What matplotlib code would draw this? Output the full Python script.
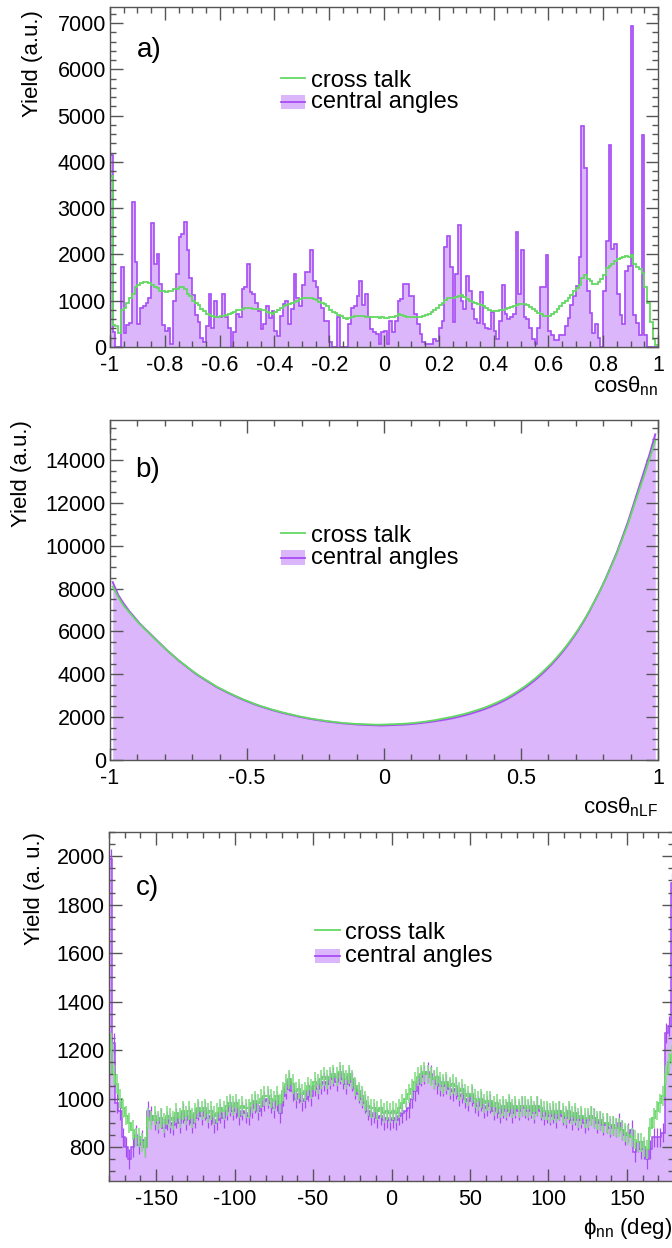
import numpy as np
import matplotlib
matplotlib.use('Agg')
import matplotlib.pyplot as plt
from matplotlib.patches import Rectangle
from matplotlib.ticker import MultipleLocator, FuncFormatter

plt.rcParams['font.family'] = ['Liberation Sans', 'DejaVu Sans']
plt.rcParams['mathtext.fontset'] = 'custom'
plt.rcParams['mathtext.rm'] = 'Liberation Sans'
plt.rcParams['mathtext.it'] = 'Liberation Sans'
plt.rcParams['axes.unicode_minus'] = False

# ---------------- datos ----------------
# a) cos(theta_nn), 200 bins de -1 a 1
a_central = [
    4150, 330, 0, 0, 1720, 300, 480, 520, 3140, 1830,
    490, 850, 880, 950, 1050, 2670, 1800, 2000, 1360, 480,
    350, 420, 60, 1000, 1580, 2380, 2450, 2700, 2090, 1500,
    1130, 700, 530, 200, 100, 450, 1150, 400, 1000, 650,
    650, 1150, 640, 400, 0, 320, 710, 640, 1250, 1290,
    1800, 1180, 1150, 960, 780, 380, 490, 890, 620, 780,
    350, 240, 670, 930, 1000, 490, 820, 1580, 1070, 890,
    1330, 1620, 1620, 2090, 1430, 1290, 1070, 850, 570, 570,
    100, 0, 0, 640, 0, 0, 0, 490, 850, 890,
    1110, 1430, 900, 1150, 640, 380, 320, 280, 60, 320,
    350, 60, 570, 320, 570, 1000, 1040, 1360, 1360, 1110,
    1110, 710, 490, 280, 100, 60, 60, 60, 170, 130,
    420, 570, 2160, 2410, 1720, 530, 1580, 2630, 1000, 820,
    1540, 1220, 820, 600, 520, 1180, 490, 420, 380, 750,
    350, 170, 570, 1330, 710, 600, 640, 710, 2480, 1150,
    2090, 640, 600, 420, 170, 60, 420, 1290, 1290, 1980,
    350, 270, 160, 160, 270, 270, 450, 630, 900, 1100,
    1320, 1940, 4770, 3860, 1210, 740, 310, 490, 200, 0,
    1210, 2300, 4370, 2120, 2230, 1140, 700, 490, 1650, 1750,
    6940, 700, 520, 270, 4590, 270, 0, 0, 0, 0,
]
a_xtalk = [
    3700, 480, 450, 300, 800, 850, 950, 1050, 1150, 1300,
    1330, 1380, 1400, 1400, 1380, 1330, 1300, 1280, 1220, 1200,
    1180, 1200, 1220, 1250, 1260, 1300, 1300, 1250, 1150, 1100,
    1000, 950, 900, 820, 780, 720, 700, 680, 650, 650,
    660, 680, 700, 720, 740, 760, 790, 810, 830, 840,
    850, 840, 830, 830, 820, 810, 790, 760, 730, 720,
    760, 800, 850, 880, 910, 930, 960, 980, 1000, 1030,
    1060, 1070, 1060, 1050, 1040, 1010, 980, 950, 930, 880,
    800, 760, 730, 700, 660, 620, 600, 620, 650, 660,
    670, 660, 660, 650, 640, 650, 640, 640, 630, 640,
    620, 630, 640, 650, 680, 720, 700, 660, 640, 650,
    640, 650, 640, 650, 660, 690, 720, 760, 800, 850,
    900, 960, 1020, 1070, 1060, 1050, 1080, 1100, 1130, 1080,
    1040, 1000, 980, 950, 930, 910, 890, 850, 800, 780,
    770, 780, 790, 810, 820, 840, 860, 880, 900, 920,
    930, 930, 900, 860, 820, 780, 740, 710, 680, 660,
    680, 720, 760, 830, 890, 950, 1000, 1060, 1120, 1200,
    1280, 1350, 1500, 1550, 1480, 1420, 1360, 1370, 1400, 1460,
    1550, 1700, 1750, 1800, 1850, 1900, 1920, 1940, 1960, 1950,
    1980, 1800, 1720, 1680, 1600, 1300, 950, 550, 180, 40,
]

# b) cos(theta_nLF), 100 bins de -1 a 1
b_central = [
    8300, 7700, 7300, 6950, 6650, 6350, 6100, 5850, 5600, 5350,
    5100, 4880, 4650, 4450, 4250, 4050, 3880, 3720, 3560, 3400,
    3270, 3140, 3020, 2900, 2790, 2690, 2590, 2500, 2420, 2340,
    2270, 2200, 2140, 2080, 2020, 1970, 1920, 1880, 1840, 1800,
    1770, 1740, 1710, 1690, 1670, 1650, 1640, 1630, 1620, 1610,
    1620, 1630, 1640, 1650, 1670, 1690, 1720, 1750, 1780, 1820,
    1860, 1900, 1950, 2010, 2070, 2140, 2220, 2300, 2390, 2490,
    2600, 2720, 2850, 3000, 3160, 3330, 3520, 3720, 3940, 4180,
    4440, 4720, 5020, 5350, 5700, 6080, 6500, 6950, 7450, 7950,
    8500, 9100, 9700, 10400, 11100, 11900, 12700, 13500, 14300, 15200,
]
b_xtalk = [
    8100, 7600, 7200, 6900, 6600, 6330, 6080, 5830, 5580, 5340,
    5100, 4880, 4660, 4460, 4260, 4070, 3900, 3740, 3580, 3420,
    3290, 3160, 3040, 2920, 2810, 2710, 2610, 2520, 2440, 2360,
    2290, 2220, 2160, 2100, 2040, 1990, 1940, 1900, 1860, 1820,
    1790, 1760, 1730, 1710, 1690, 1680, 1670, 1660, 1650, 1650,
    1660, 1670, 1680, 1690, 1710, 1730, 1760, 1790, 1830, 1870,
    1920, 1970, 2020, 2080, 2140, 2210, 2290, 2370, 2460, 2560,
    2670, 2790, 2920, 3070, 3230, 3400, 3590, 3790, 4010, 4250,
    4500, 4780, 5080, 5400, 5750, 6120, 6530, 6970, 7450, 7950,
    8480, 9060, 9650, 10320, 11000, 11780, 12550, 13300, 14100, 14900,
]

# c) phi_nn, 180 bins de -180 a 180 grados
c_central = [
    1990, 1230, 980, 950, 840, 800, 750, 800, 850, 810,
    830, 800, 950, 930, 910, 900, 920, 880, 910, 900,
    890, 920, 900, 940, 910, 930, 900, 920, 950, 930,
    950, 920, 930, 900, 910, 940, 920, 950, 970, 950,
    960, 930, 950, 940, 930, 960, 980, 950, 970, 990,
    1000, 980, 960, 990, 940, 1010, 1040, 1070, 1030, 1000,
    1020, 990, 1000, 1030, 1010, 1050, 1040, 1060, 1070, 1060,
    1080, 1090, 1070, 1100, 1080, 1060, 1090, 1070, 1040, 1020,
    1000, 980, 950, 930, 940, 920, 930, 910, 920, 910,
    920, 910, 930, 940, 950, 960, 1000, 1030, 1060, 1090,
    1100, 1110, 1100, 1080, 1060, 1050, 1050, 1060, 1040, 1030,
    1040, 1010, 1020, 1000, 990, 1010, 980, 970, 990, 960,
    970, 980, 950, 960, 940, 960, 950, 970, 940, 960,
    950, 970, 960, 950, 960, 940, 970, 950, 930, 940,
    930, 940, 920, 950, 930, 920, 940, 910, 930, 910,
    920, 900, 910, 930, 920, 900, 910, 890, 900, 880,
    890, 880, 900, 870, 850, 860, 870, 780, 820, 790,
    790, 750, 790, 840, 840, 840, 860, 1270, 1300, 1890,
]
c_xtalk = [
    1230, 1100, 1060, 1000, 960, 930, 900, 870, 840, 840,
    820, 800, 920, 910, 930, 910, 920, 900, 930, 920,
    910, 940, 920, 950, 930, 950, 920, 940, 960, 950,
    960, 940, 950, 930, 940, 960, 950, 970, 980, 970,
    980, 960, 970, 960, 960, 980, 990, 980, 1000, 1010,
    1010, 1000, 990, 1010, 980, 1030, 1060, 1080, 1060, 1030,
    1040, 1020, 1030, 1050, 1040, 1070, 1060, 1080, 1090, 1080,
    1090, 1100, 1090, 1110, 1100, 1080, 1100, 1080, 1050, 1030,
    1010, 990, 970, 960, 960, 950, 960, 940, 950, 940,
    950, 940, 960, 980, 1000, 1020, 1040, 1070, 1090, 1100,
    1110, 1100, 1090, 1080, 1090, 1070, 1060, 1070, 1050, 1060,
    1050, 1030, 1040, 1020, 1010, 1020, 1000, 990, 1000, 980,
    990, 990, 970, 980, 960, 970, 960, 980, 960, 970,
    960, 970, 970, 960, 970, 950, 970, 960, 950, 950,
    940, 950, 940, 950, 940, 930, 950, 930, 940, 920,
    930, 920, 920, 930, 920, 910, 910, 900, 900, 890,
    890, 880, 880, 870, 860, 850, 840, 830, 820, 820,
    800, 790, 880, 920, 950, 980, 1010, 1100, 1150, 1180,
]
c_err = 40  # media barra de error aproximada

# ---------------- estilo ----------------
FILL = '#dcb6fb'
VIOLET = '#a64cf5'
GREEN = '#63d863'
GREEN_ERR = '#86de86'
FRAME = '#555555'

fig = plt.figure(figsize=(6.72, 12.48), dpi=100)
ax_a = fig.add_axes([110/672, 1-347/1248, 548/672, 340/1248])
ax_b = fig.add_axes([110/672, 1-760/1248, 548/672, 340/1248])
ax_c = fig.add_axes([109/672, 1-1181/1248, 565/672, 349/1248])

fmt = FuncFormatter(lambda v, p: f'{round(v, 6) + 0.0:g}')


def estilo(ax, xmaj, xmin, ymaj, ymin):
    ax.xaxis.set_major_locator(MultipleLocator(xmaj))
    ax.xaxis.set_minor_locator(MultipleLocator(xmin))
    ax.yaxis.set_major_locator(MultipleLocator(ymaj))
    ax.yaxis.set_minor_locator(MultipleLocator(ymin))
    ax.xaxis.set_major_formatter(fmt)
    ax.yaxis.set_major_formatter(fmt)
    ax.tick_params(which='both', direction='in', top=True, right=True,
                   color=FRAME, labelsize=15.5)
    ax.tick_params(which='major', length=9, width=1)
    ax.tick_params(which='minor', length=4.5, width=1)
    ax.tick_params(axis='x', pad=6)
    ax.tick_params(axis='y', pad=3)
    for s in ax.spines.values():
        s.set_color(FRAME)
        s.set_linewidth(1)


def leyenda(ax, x0, x1, xt, yl, yt1, yb, yb_lo, yb_hi, yt2):
    ax.plot([x0, x1], [yl, yl], transform=ax.transAxes, color=GREEN, lw=1.3)
    ax.add_patch(Rectangle((x0, yb_lo), x1 - x0, yb_hi - yb_lo, transform=ax.transAxes,
                           facecolor=FILL, edgecolor='none'))
    ax.plot([x0, x1], [yb, yb], transform=ax.transAxes, color=VIOLET, lw=1.3)
    ax.text(xt, yt1, 'cross talk', transform=ax.transAxes, va='baseline', fontsize=17)
    ax.text(xt, yt2, 'central angles', transform=ax.transAxes, va='baseline', fontsize=17)


# ---------------- a) ----------------
edges_a = np.linspace(-1, 1, len(a_central) + 1)
ax_a.stairs(a_central, edges_a, fill=True, color=FILL, lw=0)
ax_a.stairs(a_central, edges_a, color=VIOLET, lw=1.2)
ax_a.stairs(a_xtalk, edges_a, color=GREEN, lw=1.3, baseline=None)
ax_a.set_xlim(-1, 1)
ax_a.set_ylim(0, 7350)
estilo(ax_a, 0.2, 0.05, 1000, 200)
ax_a.set_ylabel('Yield (a.u.)', loc='top', fontsize=16)
ax_a.yaxis.set_label_coords(-0.122, 0.99)
ax_a.set_xlabel(r'cos$\theta_{\rm nn}$', loc='right', fontsize=16)
ax_a.xaxis.set_label_coords(1.0, -0.08)
ax_a.text(0.049, 0.853, 'a)', transform=ax_a.transAxes, fontsize=20, va='baseline')
leyenda(ax_a, 0.312, 0.356, 0.367, 0.79, 0.765, 0.722, 0.701, 0.742, 0.703)

# ---------------- b) ----------------
cent_b = np.linspace(-1, 1, len(b_central) + 1)
cent_b = (cent_b[:-1] + cent_b[1:]) / 2
ax_b.fill_between(cent_b, b_central, color=FILL, lw=0)
ax_b.plot(cent_b, b_central, color=VIOLET, lw=1.4)
ax_b.plot(cent_b, b_xtalk, color=GREEN, lw=1.3)
ax_b.set_xlim(-1, 1)
ax_b.set_ylim(0, 15870)
estilo(ax_b, 0.5, 0.1, 2000, 500)
ax_b.set_ylabel('Yield (a.u.)', loc='top', fontsize=16)
ax_b.yaxis.set_label_coords(-0.142, 1.0)
ax_b.set_xlabel(r'cos$\theta_{\rm nLF}$', loc='right', fontsize=16)
ax_b.xaxis.set_label_coords(1.0, -0.103)
ax_b.text(0.046, 0.832, 'b)', transform=ax_b.transAxes, fontsize=20, va='baseline')
leyenda(ax_b, 0.312, 0.356, 0.367, 0.667, 0.641, 0.595, 0.574, 0.618, 0.576)

# ---------------- c) ----------------
edges_c = np.linspace(-180, 180, len(c_central) + 1)
cent_c = (edges_c[:-1] + edges_c[1:]) / 2
ax_c.stairs(c_central, edges_c, fill=True, color=FILL, lw=0, baseline=0)
ax_c.errorbar(cent_c, c_central, yerr=c_err, fmt='none', ecolor=VIOLET, elinewidth=0.9)
ax_c.stairs(c_central, edges_c, color=VIOLET, lw=1.1, baseline=None)
ax_c.errorbar(cent_c, c_xtalk, yerr=c_err, fmt='none', ecolor=GREEN_ERR, elinewidth=1.2)
ax_c.stairs(c_xtalk, edges_c, color=GREEN, lw=1.3, baseline=None)
ax_c.set_xlim(-180, 180)
ax_c.set_ylim(660, 2100)
estilo(ax_c, 50, 10, 200, 50)
ax_c.set_ylabel('Yield (a. u.)', loc='top', fontsize=16)
ax_c.yaxis.set_label_coords(-0.113, 1.0)
ax_c.set_xlabel(r'$\phi_{\rm nn}$ (deg)', loc='right', fontsize=16)
ax_c.xaxis.set_label_coords(0.996, -0.1)
ax_c.text(0.048, 0.82, 'c)', transform=ax_c.transAxes, fontsize=20, va='baseline')
leyenda(ax_c, 0.365, 0.408, 0.417, 0.718, 0.694, 0.646, 0.626, 0.666, 0.628)

fig.savefig('out.png', dpi=100)
